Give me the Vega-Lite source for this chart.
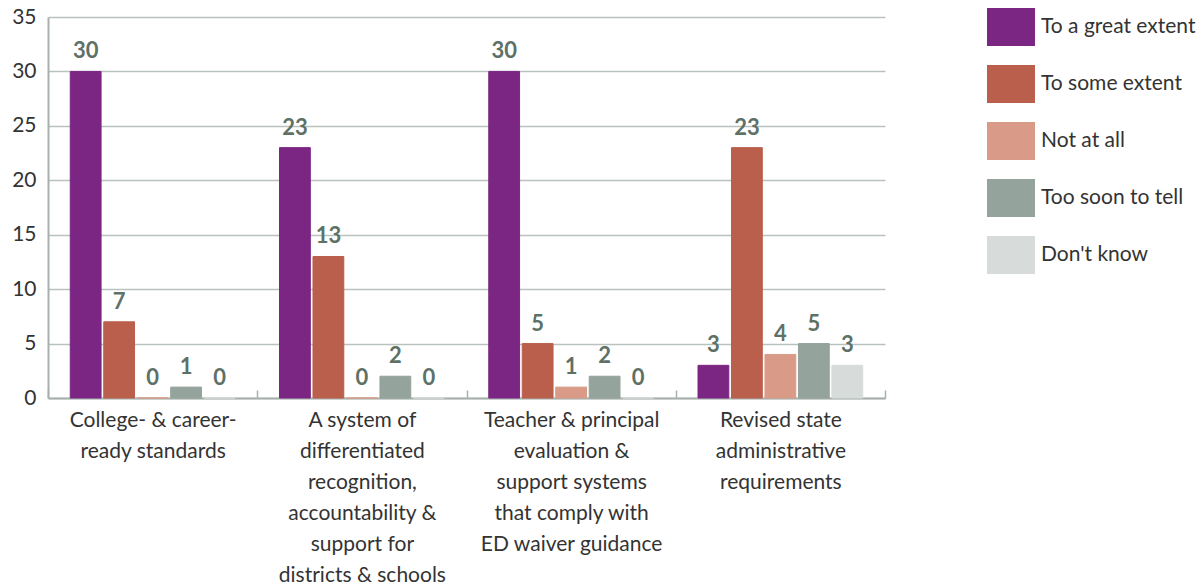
{
  "$schema": "https://vega.github.io/schema/vega-lite/v6.json",
  "autosize": "none",
  "width": 837,
  "height": 381,
  "padding": {"left": 48, "top": 17, "right": 316, "bottom": 189},
  "background": "white",
  "config": {
    "font": "Lato",
    "view": {"stroke": null}
  },
  "data": {
    "values": [
      {"category": "College- & career-|ready standards", "response": "To a great extent", "count": 30},
      {"category": "College- & career-|ready standards", "response": "To some extent", "count": 7},
      {"category": "College- & career-|ready standards", "response": "Not at all", "count": 0},
      {"category": "College- & career-|ready standards", "response": "Too soon to tell", "count": 1},
      {"category": "College- & career-|ready standards", "response": "Don't know", "count": 0},
      {"category": "A system of|differentiated|recognition,|accountability &|support  for|districts & schools", "response": "To a great extent", "count": 23},
      {"category": "A system of|differentiated|recognition,|accountability &|support  for|districts & schools", "response": "To some extent", "count": 13},
      {"category": "A system of|differentiated|recognition,|accountability &|support  for|districts & schools", "response": "Not at all", "count": 0},
      {"category": "A system of|differentiated|recognition,|accountability &|support  for|districts & schools", "response": "Too soon to tell", "count": 2},
      {"category": "A system of|differentiated|recognition,|accountability &|support  for|districts & schools", "response": "Don't know", "count": 0},
      {"category": "Teacher & principal|evaluation &|support systems|that comply with|ED waiver guidance", "response": "To a great extent", "count": 30},
      {"category": "Teacher & principal|evaluation &|support systems|that comply with|ED waiver guidance", "response": "To some extent", "count": 5},
      {"category": "Teacher & principal|evaluation &|support systems|that comply with|ED waiver guidance", "response": "Not at all", "count": 1},
      {"category": "Teacher & principal|evaluation &|support systems|that comply with|ED waiver guidance", "response": "Too soon to tell", "count": 2},
      {"category": "Teacher & principal|evaluation &|support systems|that comply with|ED waiver guidance", "response": "Don't know", "count": 0},
      {"category": "Revised state|administrative|requirements", "response": "To a great extent", "count": 3},
      {"category": "Revised state|administrative|requirements", "response": "To some extent", "count": 23},
      {"category": "Revised state|administrative|requirements", "response": "Not at all", "count": 4},
      {"category": "Revised state|administrative|requirements", "response": "Too soon to tell", "count": 5},
      {"category": "Revised state|administrative|requirements", "response": "Don't know", "count": 3}
    ]
  },
  "encoding": {
    "x": {
      "field": "category",
      "type": "nominal",
      "sort": null,
      "scale": {"paddingInner": 0, "paddingOuter": 0},
      "axis": {
        "title": null,
        "labelAngle": 0,
        "labelExpr": "split(datum.label, '|')",
        "labelFontSize": 21,
        "labelColor": "#333333",
        "labelLineHeight": 31,
        "labelPadding": 19,
        "labelLimit": 0,
        "tickBand": "extent",
        "tickSize": -8,
        "tickColor": "#a7b0ab",
        "tickWidth": 1.5,
        "domainColor": "#a7b0ab",
        "domainWidth": 2
      }
    },
    "xOffset": {
      "field": "response",
      "type": "nominal",
      "sort": ["To a great extent", "To some extent", "Not at all", "Too soon to tell", "Don't know"],
      "scale": {"paddingInner": 0.08, "paddingOuter": 0.665}
    },
    "y": {
      "field": "count",
      "type": "quantitative",
      "scale": {"domain": [0, 35]},
      "axis": {
        "title": null,
        "values": [0, 5, 10, 15, 20, 25, 30, 35],
        "labelFontSize": 21,
        "labelColor": "#333333",
        "labelPadding": 12,
        "ticks": false,
        "gridColor": "#b9c3be",
        "gridWidth": 1.5,
        "domainColor": "#a7b0ab",
        "domainWidth": 2
      }
    }
  },
  "layer": [
    {
      "mark": {"type": "bar", "strokeWidth": 1},
      "encoding": {
        "color": {
          "field": "response",
          "type": "nominal",
          "sort": ["To a great extent", "To some extent", "Not at all", "Too soon to tell", "Don't know"],
          "scale": {
            "domain": ["To a great extent", "To some extent", "Not at all", "Too soon to tell", "Don't know"],
            "range": ["#7b2682", "#b95f4c", "#d99b88", "#94a39b", "#d7dbda"]
          },
          "legend": {
            "title": null,
            "orient": "none",
            "legendX": 939,
            "legendY": -14,
            "padding": 0,
            "symbolType": "M-1,-0.79H1V0.79H-1Z",
            "symbolSize": 2304,
            "symbolStrokeWidth": 0,
            "symbolOpacity": 1,
            "rowPadding": 14,
            "labelOffset": 6,
            "labelFontSize": 21,
            "labelColor": "#333333",
            "labelLimit": 0
          }
        },
        "stroke": {
          "field": "response",
          "type": "nominal",
          "scale": {
            "domain": ["To a great extent", "To some extent", "Not at all", "Too soon to tell", "Don't know"],
            "range": ["#7b2682", "#b95f4c", "#d99b88", "#94a39b", "#d7dbda"]
          },
          "legend": null
        }
      }
    },
    {
      "mark": {"type": "text", "baseline": "alphabetic", "dy": -13, "fontWeight": "bold", "fontSize": 22, "color": "#5e7167"},
      "encoding": {
        "text": {"field": "count", "type": "quantitative"}
      }
    }
  ]
}
